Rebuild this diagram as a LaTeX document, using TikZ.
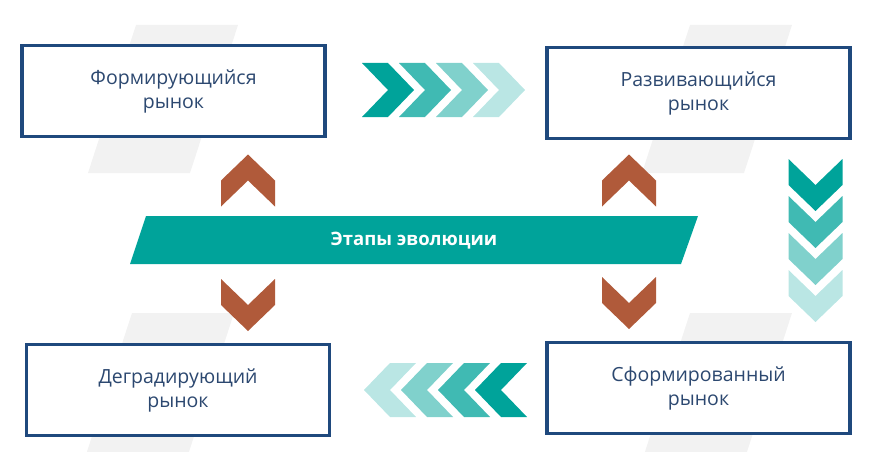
\documentclass[tikz,border=0pt]{standalone}
\usepackage{fontspec}
\setmainfont{Open Sans}
\usepackage{xcolor}
\usetikzlibrary{positioning}
\definecolor{navyc}{RGB}{31,73,125}
\definecolor{textc}{RGB}{44,72,112}
\definecolor{tealc}{RGB}{0,163,154}
\definecolor{brownc}{RGB}{176,90,58}
\definecolor{stripec}{RGB}{242,242,242}
\colorlet{tealb}{tealc!75}
\colorlet{tealcc}{tealc!50}
\colorlet{teald}{tealc!27}
\newcommand{\boxw}{303pt}
\newcommand{\boxh}{91pt}
\tikzset{
    marketsty/.style={draw=navyc,line width=3.5pt,fill=white,rectangle,minimum width=\boxw,minimum height=\boxh,align=center,text=textc,font=\fontsize{19.5}{24}\selectfont},
    stagesty/.style={text=white,font=\bfseries\fontsize{18.5}{20}\selectfont},
    stripesty/.style={fill=stripec},
    chev/.pic={\fill (-26,-27) -- (0,-27) -- (26,0) -- (0,27) -- (-26,27) -- (0,0) -- cycle;},
}
\newcommand{\stripe}[2]{\fill[stripesty] (#1,#2) -- ++(102,0) -- ++(-48,148) -- ++(-102,0) -- cycle;}

\begin{document}
\begin{tikzpicture}[x=1pt,y=-1pt]
  \useasboundingbox (0,0) rectangle (889,452);

  % background stripes
  \stripe{136}{25}
  \stripe{690}{25}
  \stripe{132}{313}
  \stripe{690}{313}

  % market boxes
  \node[marketsty] (forming) at (173.5,91) {Формирующийся\\рынок};
  \node[marketsty] (developing) at (698.5,93) {Развивающийся\\рынок};
  \node[marketsty] (degrading) at (178,390) {Деградирующий\\рынок};
  \node[marketsty] (formed) at (698.5,388) {Сформированный\\рынок};

  % evolution banner
  \fill[tealc] (146,216) -- (698,216) -- (681,264) -- (130,264) -- cycle;
  \node[stagesty] (stage) at (414,241) {Этапы эволюции};

  % chevrons forming -> developing
  \pic[fill=tealc] at (388,90) {chev};
  \pic[fill=tealb] at (425,90) {chev};
  \pic[fill=tealcc] at (462,90) {chev};
  \pic[fill=teald] at (499,90) {chev};

  % chevrons developing -> formed
  \pic[fill=tealc,rotate=-90] at (815.5,185) {chev};
  \pic[fill=tealb,rotate=-90] at (815.5,222) {chev};
  \pic[fill=tealcc,rotate=-90] at (815.5,259) {chev};
  \pic[fill=teald,rotate=-90] at (815.5,296) {chev};

  % chevrons formed -> degrading
  \pic[fill=tealc,rotate=180] at (501,390) {chev};
  \pic[fill=tealb,rotate=180] at (464,390) {chev};
  \pic[fill=tealcc,rotate=180] at (427,390) {chev};
  \pic[fill=teald,rotate=180] at (390,390) {chev};

  % chevrons to and from the banner
  \pic[fill=brownc,rotate=90] at (248,180.5) {chev};
  \pic[fill=brownc,rotate=90] at (629,180.5) {chev};
  \pic[fill=brownc,rotate=-90] at (248,305) {chev};
  \pic[fill=brownc,rotate=-90] at (629,303) {chev};
\end{tikzpicture}
\end{document}
